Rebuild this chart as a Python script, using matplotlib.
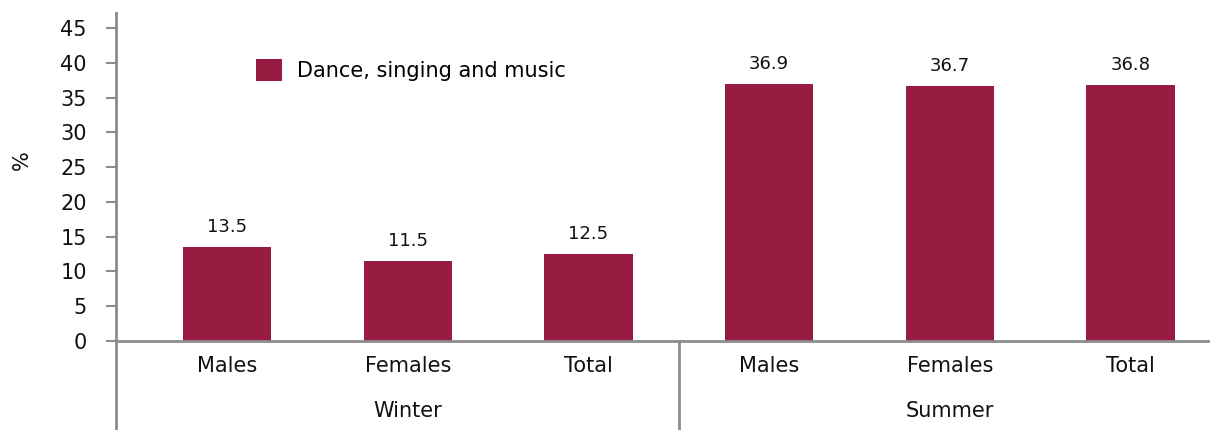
import matplotlib
matplotlib.use("Agg")
import matplotlib.pyplot as plt
from matplotlib.lines import Line2D
import matplotlib.transforms as mtransforms

plt.rcParams['font.family'] = ['DejaVu Sans']

# data
seasons = ['Winter', 'Summer']
groups = ['Males', 'Females', 'Total']
values = [13.5, 11.5, 12.5, 36.9, 36.7, 36.8]
series_name = 'Dance, singing and music'
yticks = [0, 5, 10, 15, 20, 25, 30, 35, 40, 45]

bar_color = '#981b42'
axis_color = '#8c8c8c'
text_color = '#111111'

fig = plt.figure(figsize=(12.1, 4.3), dpi=100)
ax = fig.add_axes([116 / 1210, 89 / 430, 1 - 116 / 1210, 328 / 430])

x = list(range(len(values)))
ax.bar(x, values, width=0.49, color=bar_color, label=series_name, zorder=2)

# value labels above the bars
for xi, v in zip(x, values):
    ax.annotate(f'{v:.1f}', (xi, v), xytext=(0, 8), textcoords='offset points',
                ha='center', va='bottom', fontsize=13, color=text_color)

ax.set_xlim(-0.615, 5.44)
ax.set_ylim(0, 47.15)
ax.set_yticks(yticks)
ax.set_xticks([])
ax.tick_params(axis='y', length=7, width=1.5, color=axis_color, labelsize=15,
               pad=14, labelcolor=text_color)
ax.set_ylabel('%', fontsize=15, color=text_color, va='center')
ax.yaxis.set_label_coords(-94 / 1094, 0.55)

for side in ['top', 'right', 'left']:
    ax.spines[side].set_visible(False)
ax.spines['bottom'].set_color(axis_color)
ax.spines['bottom'].set_linewidth(2)

# left axis line runs down through the category label area
ax.add_line(Line2D([0, 0], [1, -89 / 328], transform=ax.transAxes,
                   color=axis_color, lw=2, clip_on=False))

# category and group labels under the axis
trans = mtransforms.blended_transform_factory(ax.transData, ax.transAxes)
for i, g in enumerate(groups * len(seasons)):
    ax.text(i, -25 / 328, g, transform=trans, ha='center', va='center',
            fontsize=15, color=text_color)
for j, s in enumerate(seasons):
    ax.text(3 * j + 1, -70 / 328, s, transform=trans, ha='center', va='center',
            fontsize=15, color=text_color)
ax.add_line(Line2D([2.5, 2.5], [0, -89 / 328], transform=trans,
                   color=axis_color, lw=2, clip_on=False))

ax.legend(loc='center left', bbox_to_anchor=(140 / 1094, 1 - 57 / 328), frameon=False,
          fontsize=15, handlelength=1.25, handleheight=1.25, handletextpad=0.7,
          borderaxespad=0, borderpad=0)

fig.savefig('out.png', dpi=100)
